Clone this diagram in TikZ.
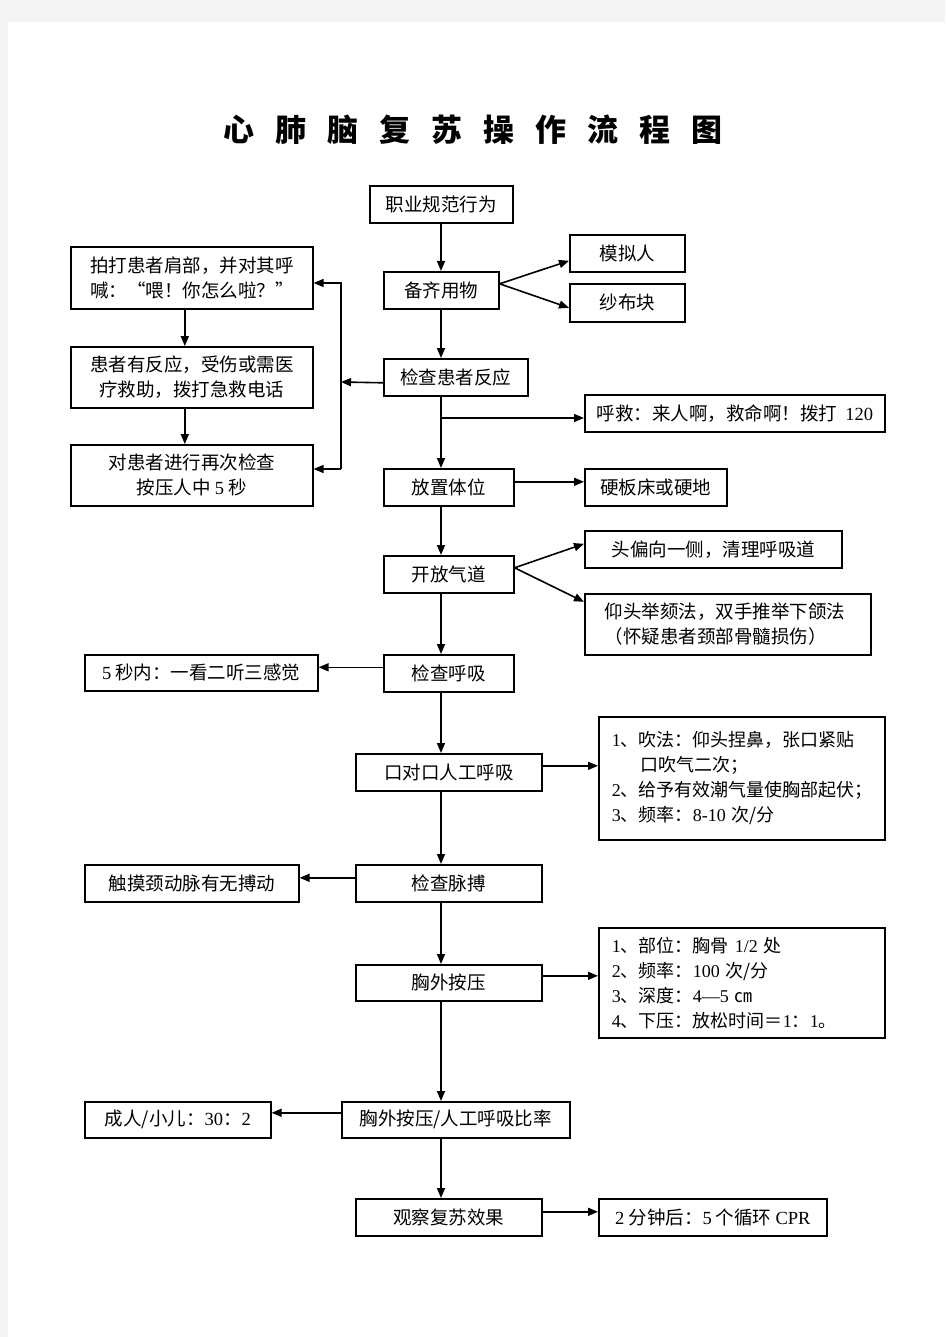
\documentclass[tikz,border=0pt]{standalone}
\usepackage{fontspec}
\setmainfont{Noto Sans CJK SC}
\newfontfamily\lat{Liberation Serif}
\usetikzlibrary{arrows.meta,calc}
\definecolor{pagegray}{HTML}{F4F4F4}
\newcommand\titlegap{\hspace{21pt}}
\begin{document}
\begin{tikzpicture}[x=1pt,y=-1pt,
  box/.style={draw=black,line width=1.6pt,inner sep=0pt,anchor=north west,
    font=\fontsize{18.5}{25}\selectfont,align=center},
  lbox/.style={draw=black,line width=1.6pt,inner ysep=0pt,anchor=north west,
    font=\fontsize{18}{25}\selectfont,align=left},
  conn/.style={line width=1.6pt,-{Triangle[length=10pt,width=8pt]}}]
\fill[pagegray] (0,0) rectangle (945,1337);
\fill[white] (8,22) rectangle (945,1337);
\useasboundingbox (0,0) rectangle (945,1337);

% title
\node[font=\fontsize{31}{31}\selectfont\bfseries] (title) at (473,130)
  {心\titlegap 肺\titlegap 脑\titlegap 复\titlegap 苏\titlegap 操\titlegap 作\titlegap 流\titlegap 程\titlegap 图};

% main column
\node[box,minimum width=143pt,minimum height=37pt] (zy) at (369,185) {职业规范行为};
\node[box,minimum width=115pt,minimum height=37pt] (bq) at (383,271) {备齐用物};
\node[box,minimum width=115pt,minimum height=37pt] (mn) at (569,234) {模拟人};
\node[box,minimum width=115pt,minimum height=38pt] (sb) at (569,283) {纱布块};
\node[box,minimum width=242pt,minimum height=62pt] (pd) at (70,246)
  {拍打患者肩部，并对其呼\\喊：“喂！你怎么啦？”};
\node[box,minimum width=242pt,minimum height=61pt] (fy) at (70,346)
  {患者有反应，受伤或需医\\疗救助，拨打急救电话};
\node[box,minimum width=242pt,minimum height=61pt] (zc) at (70,444)
  {对患者进行再次检查\\按压人中 {\lat 5} 秒};
\node[box,minimum width=144pt,minimum height=37pt] (jc) at (383,358) {检查患者反应};
\node[box,minimum width=300pt,minimum height=37pt] (hj) at (584,394)
  {呼救：来人啊，救命啊！拨打\ \ {\lat 120}};
\node[box,minimum width=130pt,minimum height=37pt] (fz) at (383,468) {放置体位};
\node[box,minimum width=142pt,minimum height=37pt] (yb) at (584,468) {硬板床或硬地};
\node[box,minimum width=130pt,minimum height=37pt] (kf) at (383,555) {开放气道};
\node[box,minimum width=257pt,minimum height=37pt] (tp) at (584,530) {头偏向一侧，清理呼吸道};
\node[lbox,inner xsep=20pt,text width=246pt,minimum height=61pt,
  font=\fontsize{18.5}{25}\selectfont] (yt) at (584,593)
  {仰头举颏法，双手推举下颌法\\（怀疑患者颈部骨髓损伤）};
\node[box,minimum width=130pt,minimum height=37pt] (hx) at (383,654) {检查呼吸};
\node[box,minimum width=233pt,minimum height=36pt] (wm) at (84,654)
  {{\lat 5} 秒内：一看二听三感觉};
\node[box,minimum width=186pt,minimum height=37pt] (kd) at (355,753) {口对口人工呼吸};
\node[lbox,inner xsep=13pt,text width=260pt,minimum height=123pt] (cf) at (598,716)
  {{\lat 1}、吹法：仰头捏鼻，张口紧贴\\
   \hspace*{29pt}口吹气二次；\\
   {\lat 2}、给予有效潮气量使胸部起伏；\\
   {\lat 3}、频率：{\lat 8-10} 次/分\\[6pt]};
\node[box,minimum width=186pt,minimum height=37pt] (mb) at (355,864) {检查脉搏};
\node[box,minimum width=214pt,minimum height=37pt] (cm) at (84,864) {触摸颈动脉有无搏动};
\node[box,minimum width=186pt,minimum height=36pt] (xy) at (355,964) {胸外按压};
\node[lbox,inner xsep=13pt,text width=260pt,minimum height=110pt] (bw) at (598,927)
  {{\lat 1}、部位：胸骨 {\lat 1/2} 处\\
   {\lat 2}、频率：{\lat 100} 次/分\\
   {\lat 3}、深度：{\lat 4—5} ㎝\\
   {\lat 4}、下压：放松时间＝{\lat 1}：{\lat 1}。};
\node[box,minimum width=228pt,minimum height=36pt] (bl) at (341,1101) {胸外按压/人工呼吸比率};
\node[box,minimum width=186pt,minimum height=36pt] (cr) at (84,1101)
  {成人/小儿：{\lat 30}：{\lat 2}};
\node[box,minimum width=186pt,minimum height=37pt] (gc) at (355,1198) {观察复苏效果};
\node[box,minimum width=228pt,minimum height=37pt] (ef) at (598,1198)
  {{\lat 2} 分钟后：{\lat 5} 个循环 {\lat CPR}};

% spine
\coordinate (sp) at (441,0);
\draw[conn] (zy.south -| sp) -- (bq.north -| sp);
\draw[conn] (bq.south -| sp) -- (jc.north -| sp);
\draw[conn] (jc.south -| sp) -- (fz.north -| sp);
\draw[conn] (fz.south -| sp) -- (kf.north -| sp);
\draw[conn] (kf.south -| sp) -- (hx.north -| sp);
\draw[conn] (hx.south -| sp) -- (kd.north -| sp);
\draw[conn] (kd.south -| sp) -- (mb.north -| sp);
\draw[conn] (mb.south -| sp) -- (xy.north -| sp);
\draw[conn] (xy.south -| sp) -- (bl.north -| sp);
\draw[conn] (bl.south -| sp) -- (gc.north -| sp);

% branch to call for help
\coordinate (b1) at (441,418);
\draw[conn] (b1) -- (b1 -| hj.west);

% diagonals
\draw[conn] ([yshift=6.5pt]bq.east) -- ([yshift=-7.5pt]mn.west);
\draw[conn] ([yshift=6.5pt]bq.east) -- ([yshift=-5pt]sb.west);
\draw[conn] ([yshift=6.5pt]kf.east) -- ([yshift=5.5pt]tp.west);
\draw[conn] ([yshift=6.5pt]kf.east) -- ([yshift=22.5pt]yt.west);

% side arrows
\draw[conn] ([yshift=5.5pt]fz.east) -- ([yshift=5.5pt]fz.east -| yb.west);
\draw[conn] ([yshift=6pt]hx.west) -- ([yshift=6pt]hx.west -| wm.east);
\draw[conn] ([yshift=6.5pt]kd.east) -- ([yshift=6.5pt]kd.east -| cf.west);
\draw[conn] ([yshift=5.5pt]mb.west) -- ([yshift=5.5pt]mb.west -| cm.east);
\draw[conn] ([yshift=7pt]xy.east) -- ([yshift=7pt]xy.east -| bw.west);
\draw[conn] ([yshift=7pt]bl.west) -- ([yshift=7pt]bl.west -| cr.east);
\draw[conn] ([yshift=5.5pt]gc.east) -- ([yshift=5.5pt]gc.east -| ef.west);

% left column
\draw[conn] ([xshift=-7pt]pd.south) -- ([xshift=-7pt]pd.south |- fy.north);
\draw[conn] ([xshift=-7pt]fy.south) -- ([xshift=-7pt]fy.south |- zc.north);
\coordinate (fa) at (341,283);
\coordinate (fm) at (341,382);
\coordinate (fb) at (341,469);
\draw[conn] ([yshift=-5.5pt]jc.west) -- (fm);
\draw[conn] (fb) -- (fa) -- (fa -| pd.east);
\draw[conn] (fb) -- (fb -| zc.east);
\end{tikzpicture}
\end{document}
